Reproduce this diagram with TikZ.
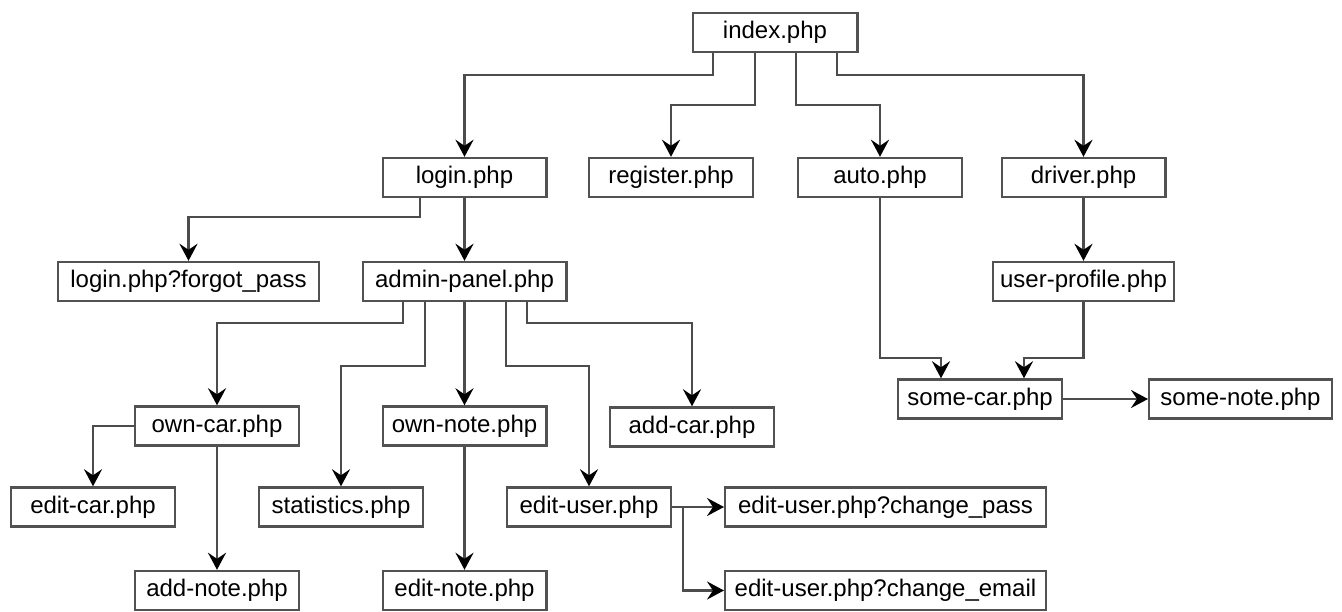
\documentclass[tikz,border=0pt]{standalone}
\usepackage{fontspec}
\setmainfont{Liberation Sans}
\usetikzlibrary{arrows.meta}
\begin{document}
\begin{tikzpicture}[x=1pt,y=-1pt,
  box/.style={draw=black!68, line width=2.4pt, fill=white, inner sep=0pt,
    minimum height=39pt, font=\fontsize{24}{28}\selectfont, text=black},
  w166/.style={minimum width=163.6pt},
  tip/.style={-{Stealth[length=17pt,width=18pt,inset=6pt,color=black,fill=black]}, draw=black!70, line width=2.3pt},
]
\useasboundingbox (0,0) rectangle (1342,612);
% nodes
\node[box, minimum width=164.6pt] (index) at (775,32.5) {index.php};
\node[box,w166] (login) at (464.5,177.5) {login.php};
\node[box,w166] (register) at (671,177.5) {register.php};
\node[box,w166] (auto) at (880,177.5) {auto.php};
\node[box,w166] (driver) at (1083.5,177.5) {driver.php};
\node[box, minimum width=260.6pt] (forgot) at (188.5,281.5) {login.php?forgot\_pass};
\node[box, minimum width=203.6pt] (admin) at (464.5,281.5) {admin-panel.php};
\node[box, minimum width=180.6pt] (userprof) at (1083.5,281.5) {user-profile.php};
\node[box,w166] (owncar) at (217,426) {own-car.php};
\node[box,w166] (ownnote) at (464.5,426) {own-note.php};
\node[box,w166] (addcar) at (692,427) {add-car.php};
\node[box,w166] (somecar) at (980,399) {some-car.php};
\node[box, minimum width=182.6pt] (somenote) at (1240.5,399) {some-note.php};
\node[box,w166] (editcar) at (93,507) {edit-car.php};
\node[box,w166] (stats) at (341,507) {statistics.php};
\node[box,w166] (edituser) at (589,507) {edit-user.php};
\node[box, minimum width=320.6pt] (chpass) at (885.5,507) {edit-user.php?change\_pass};
\node[box,w166] (addnote) at (217,590.5) {add-note.php};
\node[box,w166] (editnote) at (464.5,590.5) {edit-note.php};
\node[box, minimum width=320.6pt] (chemail) at (885.5,590.5) {edit-user.php?change\_email};
% connectors
\draw[tip] ([xshift=-62pt]index.south) -- ++(0,22) -| (login.north);
\draw[tip] ([xshift=-20pt]index.south) -- ++(0,52) -| (register.north);
\draw[tip] ([xshift=21pt]index.south) -- ++(0,52) -| (auto.north);
\draw[tip] ([xshift=62pt]index.south) -- ++(0,22) -| (driver.north);
\draw[tip] ([xshift=-44.5pt]login.south) -- ++(0,19) -| (forgot.north);
\draw[tip] (login.south) -- (admin.north);
\draw[tip] ([xshift=-61.5pt]admin.south) -- ++(0,21) -| (owncar.north);
\draw[tip] ([xshift=-39.5pt]admin.south) -- ++(0,64) -| (stats.north);
\draw[tip] (admin.south) -- (ownnote.north);
\draw[tip] ([xshift=41.5pt]admin.south) -- ++(0,64) -| (edituser.north);
\draw[tip] ([xshift=62.5pt]admin.south) -- ++(0,21) -| (addcar.north);
\draw[tip] (owncar.west) -| (editcar.north);
\draw[tip] (owncar.south) -- (addnote.north);
\draw[tip] (ownnote.south) -- (editnote.north);
\draw[tip] (edituser.east) -- (chpass.west);
\draw[tip] (edituser.east) -- ++(11,0) |- (chemail.west);
\draw[tip] (driver.south) -- (userprof.north);
\draw[tip] (auto.south) -- ++(0,160) -| ([xshift=-39pt]somecar.north);
\draw[tip] (userprof.south) -- ++(0,56) -| ([xshift=44pt]somecar.north);
\draw[tip] (somecar.east) -- (somenote.west);
\end{tikzpicture}
\end{document}
